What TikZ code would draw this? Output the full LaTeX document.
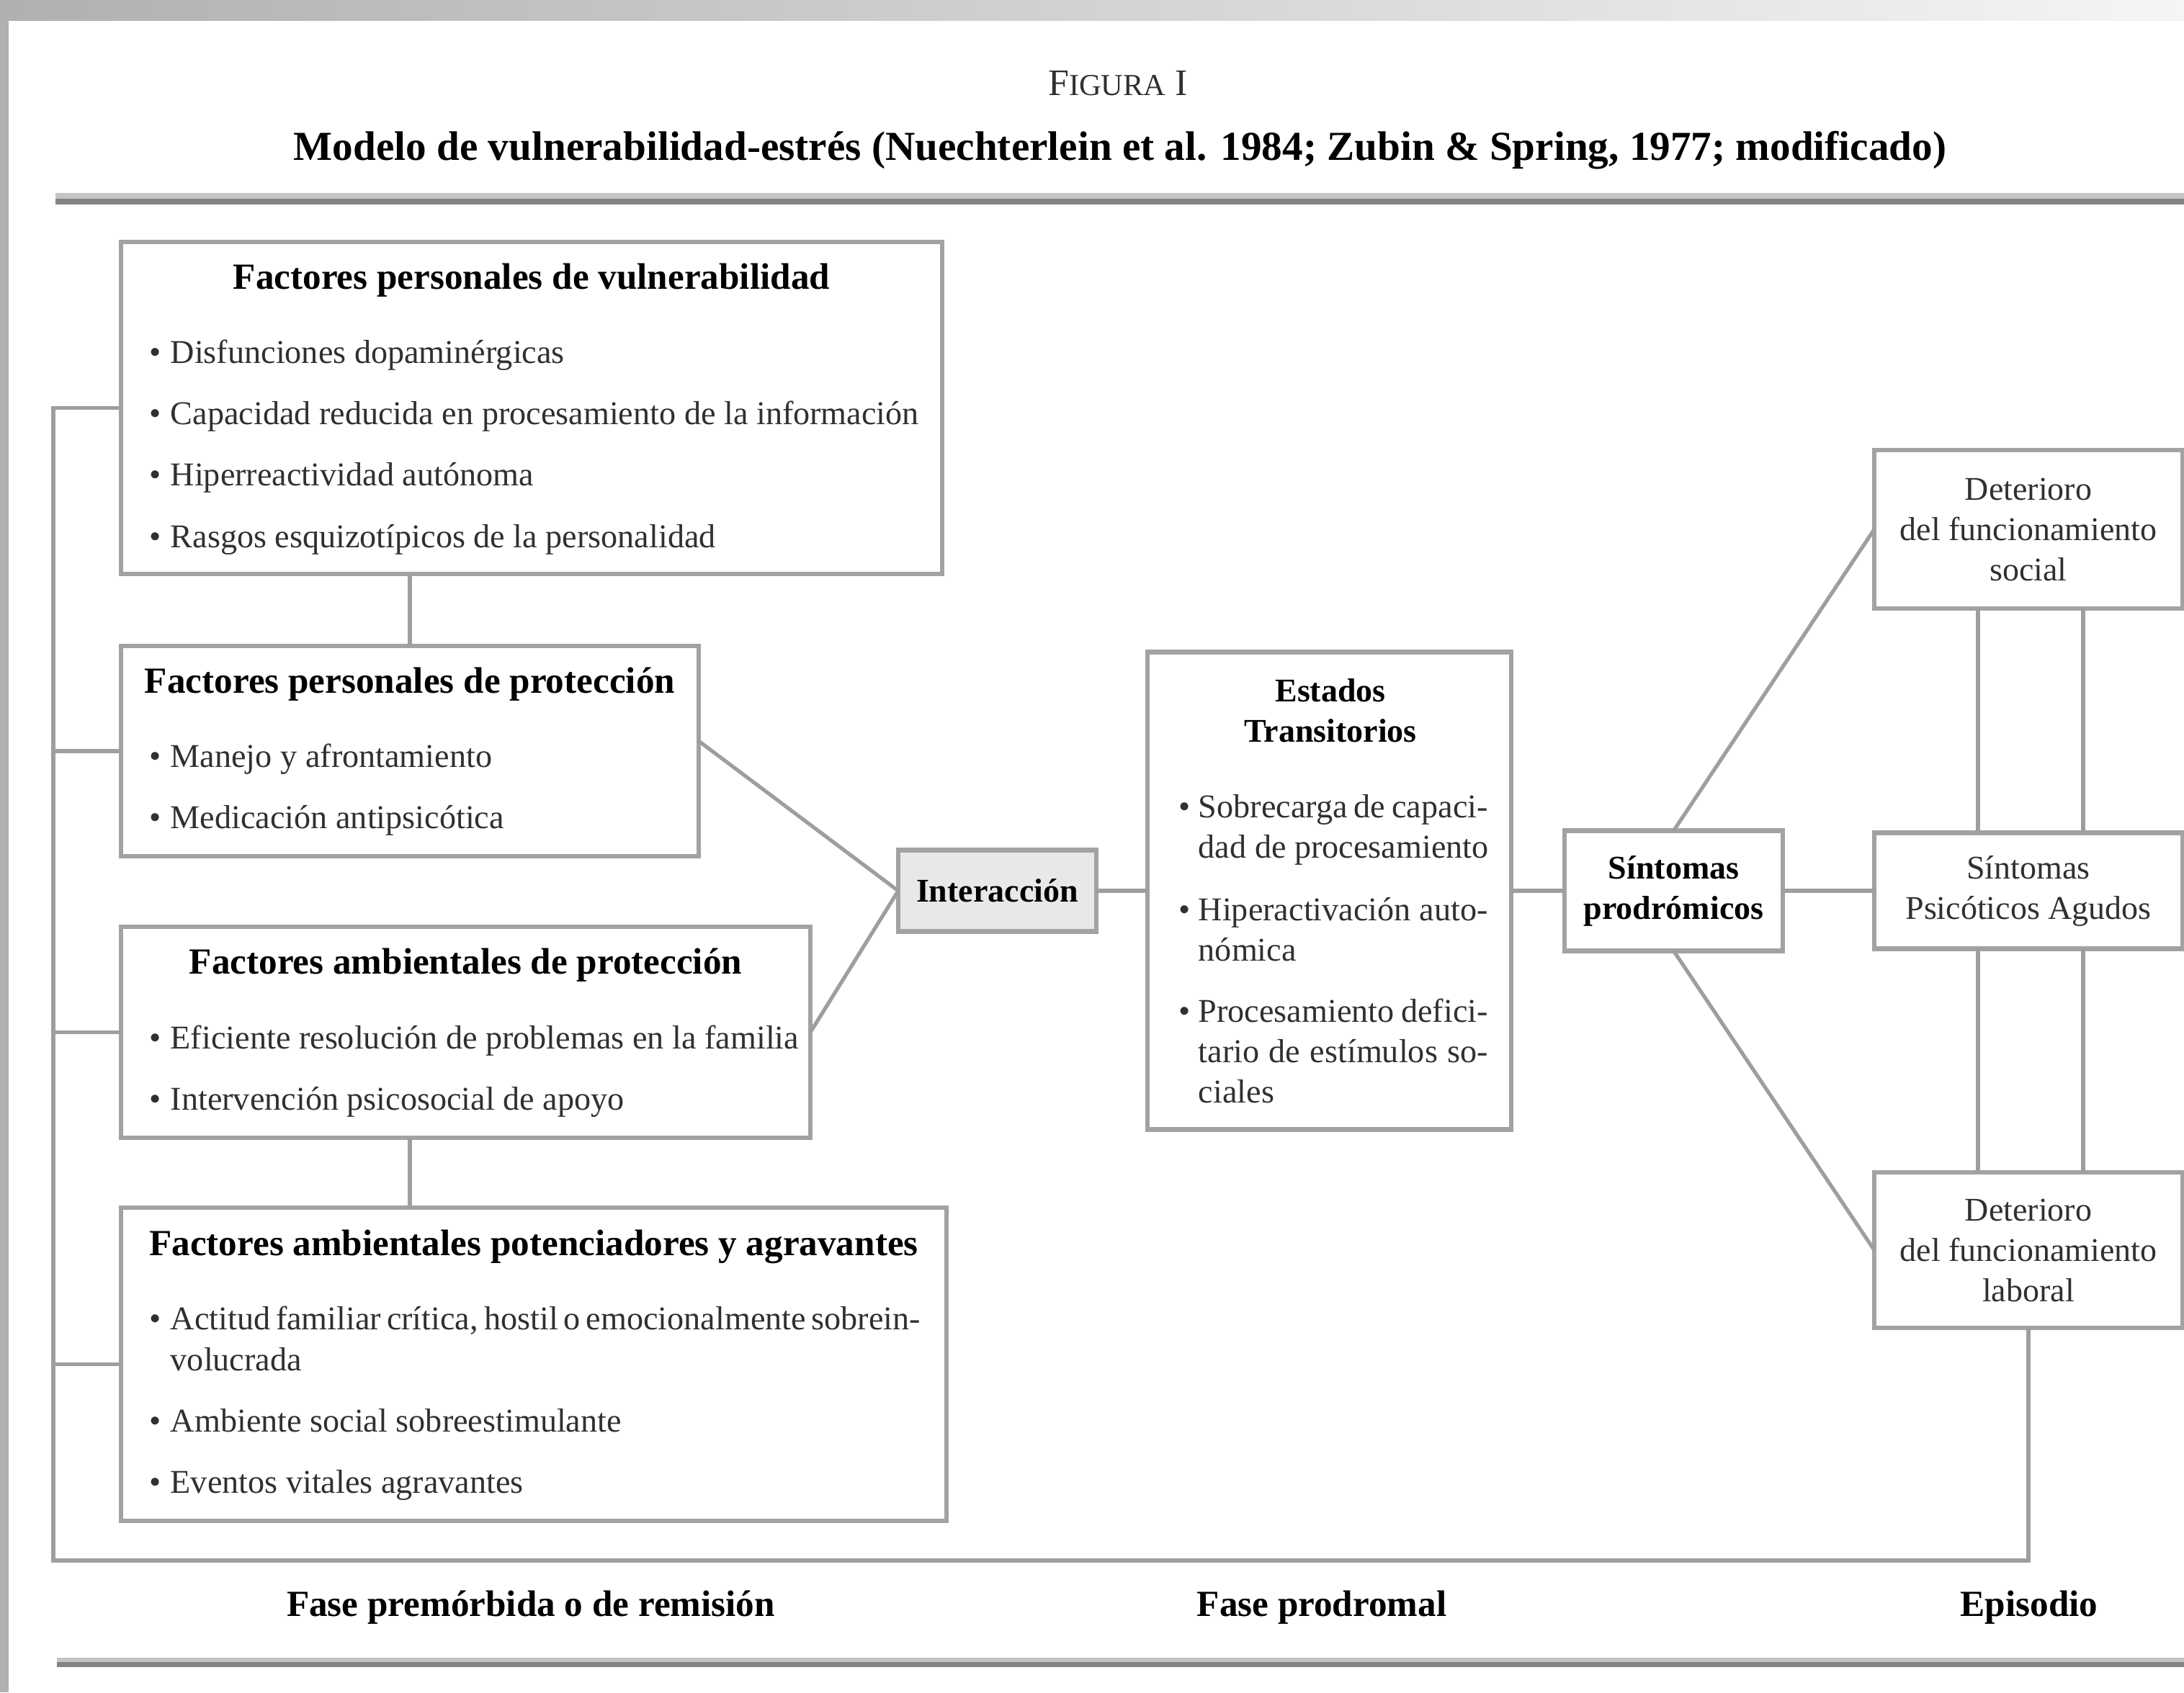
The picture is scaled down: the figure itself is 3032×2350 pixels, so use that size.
\documentclass[tikz,border=0pt]{standalone}
\usepackage{fontspec}
\setmainfont{Liberation Serif}
\usetikzlibrary{calc}
\definecolor{boxgray}{RGB}{162,162,162}
\definecolor{linegray}{RGB}{158,158,158}
\definecolor{txt}{RGB}{48,48,48}
\definecolor{intfill}{RGB}{232,232,232}
\definecolor{rulelight}{RGB}{196,196,196}
\definecolor{ruledark}{RGB}{132,132,132}
\newcommand\bul[1]{\makebox[#1][l]{\textbullet}}
\begin{document}
\begin{tikzpicture}[x=0.25pt,y=-0.25pt,
  box/.style={draw=boxgray, line width=1.6pt, inner sep=0pt, outer sep=0pt, rectangle, fill=white},
  conn/.style={draw=linegray, line width=1.3pt},
  head/.style={font=\fontsize{12.8}{15}\selectfont\bfseries, text=black, inner sep=0pt, anchor=mid, yshift=-1.2pt},
  item/.style={font=\fontsize{11.55}{14}\selectfont, text=txt, inner sep=0pt, anchor=mid west, yshift=-1pt},
  bhead/.style={font=\fontsize{11.5}{14}\selectfont\bfseries, text=black, inner sep=0pt, anchor=mid, yshift=-1pt},
  rtext/.style={font=\fontsize{11.5}{14}\selectfont, text=txt, align=center},
  btext/.style={font=\fontsize{11.5}{14}\selectfont\bfseries, text=black, align=center},
]
\useasboundingbox (0,0) rectangle (3032,2350);
\fill[white] (0,0) rectangle (3032,2350);
% screen frame
\shade[left color=gray!62, right color=gray!8] (0,0) rectangle (3032,28);
\fill[gray!62] (0,28) rectangle (12,2350);
% rules
\fill[rulelight] (77,268) rectangle (3032,276);
\fill[ruledark] (77,276) rectangle (3032,284);
\fill[rulelight] (79,2302) rectangle (3032,2308);
\fill[ruledark] (79,2308) rectangle (3032,2315);

% titles
\node[font=\fontsize{13}{15}\selectfont, text=txt, inner sep=0pt, anchor=base] (fig) at (1552,132) {F{\fontsize{10.6}{13}\selectfont IGURA} I};
\node[font=\fontsize{14.3}{17}\selectfont\bfseries, text=black, inner sep=0pt, anchor=base] (title) at (1555,222)
  {Modelo de vulnerabilidad-estrés (Nuechterlein et al. 1984; Zubin \& Spring, 1977; modificado)};

% left boxes
\node[box, minimum width=285pt, minimum height=115.25pt] (b1) at (738,566.5) {};
\node[box, minimum width=200.5pt, minimum height=73pt] (b2) at (569,1043) {};
\node[box, minimum width=239.25pt, minimum height=73.25pt] (b3) at (646.5,1433.5) {};
\node[box, minimum width=286.5pt, minimum height=108.75pt] (b4) at (741,1894.5) {};

\node[head] (b1h) at (738,387) {Factores personales de vulnerabilidad};
\node[item] (b1a) at (207,491) {\bul{7.25pt}Disfunciones dopaminérgicas};
\node[item] (b1b) at (207,576) {\bul{7.25pt}Capacidad reducida en procesamiento de la información};
\node[item] (b1c) at (207,661) {\bul{7.25pt}Hiperreactividad autónoma};
\node[item] (b1d) at (207,747) {\bul{7.25pt}Rasgos esquizotípicos de la personalidad};

\node[head] (b2h) at (569,948) {Factores personales de protección};
\node[item] (b2a) at (207,1052) {\bul{7.25pt}Manejo y afrontamiento};
\node[item] (b2b) at (207,1137) {\bul{7.25pt}Medicación antipsicótica};

\node[head] (b3h) at (646.5,1338) {Factores ambientales de protección};
\node[item] (b3a) at (207,1443) {\bul{7.25pt}Eficiente resolución de problemas en la familia};
\node[item] (b3b) at (207,1528) {\bul{7.25pt}Intervención psicosocial de apoyo};

\node[head] (b4h) at (741,1729) {Factores ambientales potenciadores y agravantes};
\node[item] (b4a) at (207,1833) {\bul{7.25pt}\makebox[260pt][s]{Actitud familiar crítica, hostil o emocionalmente sobrein-}};
\node[item] (b4a2) at (236,1890) {volucrada};
\node[item] (b4b) at (207,1975) {\bul{7.25pt}Ambiente social sobreestimulante};
\node[item] (b4c) at (207,2060) {\bul{7.25pt}Eventos vitales agravantes};

% interaction
\node[box, fill=intfill, minimum width=68.75pt, minimum height=28.25pt, btext] (int) at (1384.5,1237) {Interacción};

% transitional states
\node[box, minimum width=126.25pt, minimum height=165.75pt] (est) at (1845.5,1237) {};
\node[bhead] (esth1) at (1847,961) {Estados};
\node[bhead] (esth2) at (1847,1017) {Transitorios};
\node[item] (esta1) at (1636,1122) {\bul{6.75pt}\makebox[100.5pt][s]{Sobrecarga de capaci-}};
\node[item] (esta2) at (1663,1178) {dad de procesamiento};
\node[item] (estb1) at (1636,1265) {\bul{6.75pt}\makebox[100.5pt][s]{Hiperactivación auto-}};
\node[item] (estb2) at (1663,1321) {nómica};
\node[item] (estc1) at (1636,1406) {\bul{6.75pt}\makebox[100.5pt][s]{Procesamiento defici-}};
\node[item] (estc2) at (1663,1462) {\makebox[100.5pt][s]{tario de estímulos so-}};
\node[item] (estc3) at (1663,1518) {ciales};

% prodromal and episode
\node[box, minimum width=75.75pt, minimum height=41.75pt, btext] (sp) at (2323.5,1237) {Síntomas\\prodrómicos};
\node[box, minimum width=107pt, minimum height=55pt, rtext] (ds) at (2816,735) {Deterioro\\del funcionamiento\\social};
\node[box, minimum width=107pt, minimum height=40.25pt, rtext] (spa) at (2816,1237) {Síntomas\\Psicóticos Agudos};
\node[box, minimum width=107pt, minimum height=54pt, rtext] (dl) at (2816,1736) {Deterioro\\del funcionamiento\\laboral};

% phase labels
\node[head] (f1) at (737,2230) {Fase premórbida o de remisión};
\node[head] (f2) at (1835,2230) {Fase prodromal};
\node[head] (f3) at (2817,2230) {Episodio};

% connectors
\coordinate (lb) at (74,2167);
\coordinate (v1) at (2746,0);
\coordinate (v2) at (2892,0);
\draw[conn] (b2.north |- b1.south) -- (b2.north);
\draw[conn] (b3.south -| b2.north) -- (b4.north -| b2.north);
\draw[conn] ([yshift=3.5pt]b2.east) -- (int.west);
\draw[conn] (b3.east) -- (int.west);
\draw[conn] (int.east) -- (est.west);
\draw[conn] (est.east) -- (sp.west);
\draw[conn] (sp.east) -- (spa.west);
\draw[conn] (sp.north) -- (ds.west);
\draw[conn] (sp.south) -- (dl.west);
\draw[conn] (ds.south -| v1) -- (spa.north -| v1);
\draw[conn] (ds.south -| v2) -- (spa.north -| v2);
\draw[conn] (spa.south -| v1) -- (dl.north -| v1);
\draw[conn] (spa.south -| v2) -- (dl.north -| v2);
\draw[conn] (dl.south) |- (lb) -- (lb |- b1.west) -- (b1.west);
\draw[conn] (lb |- b2.west) -- (b2.west);
\draw[conn] (lb |- b3.west) -- (b3.west);
\draw[conn] (lb |- b4.west) -- (b4.west);
\end{tikzpicture}
\end{document}
